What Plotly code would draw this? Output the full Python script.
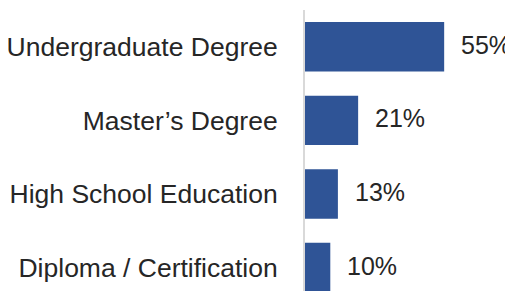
import plotly.graph_objects as go

categories = ["Undergraduate Degree", "Master’s Degree", "High School Education", "Diploma / Certification"]
values = [55, 21, 13, 10]
value_labels = ["55%", "21%", "13%", "10%"]

FONT = "Liberation Sans, Arial, Helvetica, sans-serif"
BAR_COLOR = "#2F5496"
TEXT_COLOR = "#262626"

fig = go.Figure(
    go.Bar(
        x=values,
        y=categories,
        orientation="h",
        marker=dict(color=BAR_COLOR, line=dict(width=0)),
        width=0.672,
        hoverinfo="skip",
    )
)

for cat, v, lab in zip(categories, values, value_labels):
    fig.add_annotation(
        x=v, y=cat, text=lab, showarrow=False,
        xanchor="left", yanchor="middle", xshift=15, yshift=2,
        font=dict(family=FONT, size=25, color=TEXT_COLOR),
    )

# page has an 8px body margin, so the figure is sized to fit the window without scrolling
fig.update_layout(
    width=505, height=283,
    margin=dict(l=297, r=0, t=2, b=0, autoexpand=False),
    paper_bgcolor="white", plot_bgcolor="white",
    showlegend=False,
    xaxis=dict(range=[0, 82.2], visible=False, showgrid=False, zeroline=False, automargin=False),
    yaxis=dict(
        type="category",
        categoryorder="array", categoryarray=categories,
        range=[3.319, -0.5],
        automargin=False,
        showgrid=False, zeroline=False,
        showline=True, linecolor="#D9D9D9", linewidth=2,
        ticks="", ticklabelstandoff=20,
        tickfont=dict(family=FONT, size=26.5, color=TEXT_COLOR),
    ),
)

fig.write_html("out.html")
